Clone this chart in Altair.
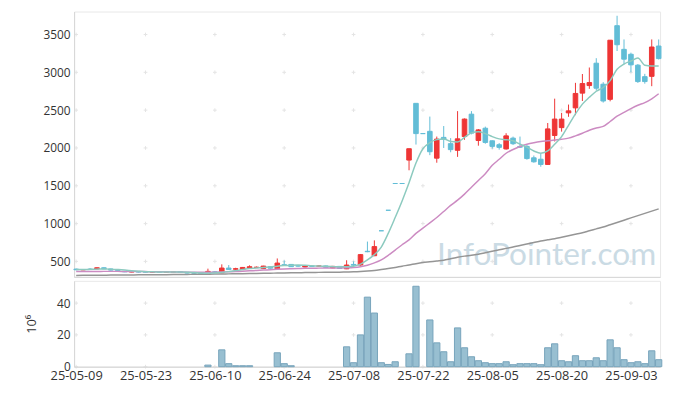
import json
import altair as alt
import pandas as pd

dates = [
    "25-05-09", "25-05-12", "25-05-13", "25-05-14", "25-05-15", "25-05-16",
    "25-05-19", "25-05-20", "25-05-21", "25-05-22", "25-05-23",
    "25-05-26", "25-05-27", "25-05-28", "25-05-29", "25-05-30",
    "25-06-02", "25-06-04", "25-06-05", "25-06-09", "25-06-10",
    "25-06-11", "25-06-12", "25-06-13", "25-06-16", "25-06-17", "25-06-18",
    "25-06-19", "25-06-20", "25-06-23", "25-06-24", "25-06-25", "25-06-26",
    "25-06-27", "25-06-30", "25-07-01", "25-07-02", "25-07-03", "25-07-04",
    "25-07-07", "25-07-08", "25-07-09", "25-07-10", "25-07-11", "25-07-14",
    "25-07-15", "25-07-16", "25-07-17", "25-07-18", "25-07-21", "25-07-22",
    "25-07-23", "25-07-24", "25-07-25", "25-07-28", "25-07-29", "25-07-30",
    "25-07-31", "25-08-01", "25-08-04", "25-08-05", "25-08-06", "25-08-07",
    "25-08-08", "25-08-11", "25-08-12", "25-08-13", "25-08-14", "25-08-18",
    "25-08-19", "25-08-20", "25-08-21", "25-08-22", "25-08-25", "25-08-26",
    "25-08-27", "25-08-28", "25-08-29", "25-09-01", "25-09-02", "25-09-03",
    "25-09-04", "25-09-05", "25-09-08", "25-09-09",
]

opens = [
    398, 388, 398, 400, 416, 400, 378, 368, 360, 364, 362, 358, 362, 358, 358,
    364, 356, 350, 346, 328, 362, 350, 412, 396, 392, 410, 420, 405, 430, 402,
    456, 460, 442, 426, 438, 437, 440, 414, 434, 402, 460, 452, 634, 575, 905,
    1176, 1530, 1530, 1840, 2590, 2190, 2220, 1865, 2140, 2057, 1969, 2151, 2447,
    2099, 2261, 2095, 2043, 1987, 2130, 2020, 2021, 1870, 1851, 1782, 2165, 2269,
    2464, 2530, 2725, 2825, 3121, 2843, 2643, 3617, 3304, 3239, 3095, 2943, 2947,
    3348,
]
highs = [
    405, 396, 412, 420, 420, 404, 382, 372, 367, 367, 366, 366, 366, 370, 367,
    368, 360, 353, 350, 404, 372, 461, 452, 416, 426, 448, 432, 442, 436, 539,
    513, 465, 448, 448, 442, 452, 445, 440, 438, 515, 500, 598, 762, 778, 905,
    1176, 1530, 1530, 1990, 2590, 2190, 2415, 2151, 2290, 2130, 2487, 2390, 2487,
    2250, 2282, 2100, 2065, 2195, 2150, 2151, 2040, 1900, 1926, 2330, 2652, 2464,
    2574, 2861, 2978, 3064, 3187, 2870, 3425, 3748, 3435, 3260, 3110, 2980, 3435,
    3435,
]
lows = [
    383, 385, 388, 396, 398, 380, 366, 358, 356, 355, 354, 355, 354, 355, 355,
    352, 342, 340, 333, 325, 350, 345, 388, 390, 388, 405, 412, 400, 405, 398,
    440, 426, 432, 420, 428, 430, 418, 410, 402, 398, 440, 445, 622, 570, 905,
    1176, 1530, 1530, 1705, 2045, 2190, 1905, 1805, 2000, 1943, 1882, 2108, 2180,
    2030, 2056, 1991, 1978, 1978, 2040, 2000, 1845, 1805, 1752, 1782, 2086, 2216,
    2412, 2434, 2621, 2782, 2760, 2600, 2617, 3282, 3108, 3000, 2860, 2850, 2817,
    3170,
]
closes = [
    390, 392, 392, 416, 402, 385, 370, 362, 363, 359, 358, 361, 358, 362, 361,
    356, 346, 344, 336, 368, 356, 412, 392, 404, 420, 430, 423, 438, 410, 478,
    450, 430, 438, 442, 434, 440, 422, 434, 406, 452, 450, 590, 628, 696, 905,
    1176, 1530, 1530, 1990, 2190, 2190, 1950, 2117, 2115, 1978, 2121, 2382, 2196,
    2239, 2073, 2021, 2008, 2160, 2056, 2010, 1860, 1817, 1782, 2252, 2382, 2382,
    2491, 2721, 2852, 2865, 2790, 2621, 3425, 3365, 3174, 3099, 2878, 2878, 3335,
    3182,
]
# volume, millions of shares (0 where no bar is visible)
volume = [
    0.0, 0.0, 0.0, 0.0, 0.0, 0.0, 0.0, 0.0, 0.0, 0.0, 0.0, 0.0, 0.0, 0.0, 0.0,
    0.0, 0.0, 0.0, 0.0, 1.0, 0.0, 10.6, 1.9, 0.6, 0.6, 0.6, 0.0, 0.0, 0.0, 8.75,
    1.9, 0.6, 0.0, 0.0, 0.0, 0.0, 0.0, 0.0, 0.0, 12.5, 2.5, 20.0, 43.75, 33.75, 2.5,
    1.4, 3.1, 0.0, 8.1, 50.6, 0.0, 29.4, 15.0, 9.4, 3.1, 24.4, 11.9, 6.25, 3.75,
    2.5, 1.9, 1.9, 3.1, 1.25, 1.9, 1.9, 1.9, 1.25, 11.9, 14.4, 3.75, 3.1, 6.9,
    3.75, 3.75, 5.6, 3.75, 16.9, 11.9, 4.4, 2.5, 3.1, 1.9, 10.0, 4.4,
]
ma5 = [
    392, 393, 395, 398, 400, 398, 392, 385, 377, 370, 364, 362, 360, 360, 360,
    359, 356, 352, 347, 344, 346, 355, 365, 378, 392, 405, 412, 420, 425, 437,
    445, 450, 452, 448, 442, 438, 436, 432, 428, 430, 437, 465, 520, 590, 690,
    870, 1080, 1300, 1540, 1800, 1990, 2070, 2110, 2120, 2085, 2080, 2140, 2200,
    2215, 2190, 2150, 2120, 2110, 2095, 2050, 2010, 1960, 1930, 1960, 2050, 2150,
    2300, 2450, 2580, 2670, 2750, 2800, 2890, 3040, 3110, 3150, 3190, 3095, 3085,
    3085,
]
ma20 = [
    366, 366, 367, 367, 368, 368, 368, 367, 367, 366, 365, 364, 363, 362, 361,
    360, 358, 357, 356, 356, 357, 360, 363, 366, 370, 375, 380, 385, 390, 395,
    399, 402, 405, 408, 410, 411, 412, 413, 414, 416, 420, 430, 450, 480, 520,
    580, 650, 720, 785, 870, 940, 1010, 1080, 1160, 1240, 1310, 1390, 1480, 1570,
    1660, 1770, 1850, 1930, 1980, 2020, 2050, 2070, 2085, 2095, 2105, 2115, 2130,
    2160, 2195, 2235, 2265, 2285, 2350, 2420, 2470, 2520, 2565, 2600, 2650, 2717,
]
ma_long = [
    315, 316, 316, 317, 318, 319, 319, 320, 321, 322, 322, 323, 324, 325, 326,
    327, 328, 329, 330, 331, 333, 334, 335, 337, 338, 340, 341, 343, 344, 346,
    347, 349, 350, 352, 353, 355, 356, 357, 358, 360, 362, 366, 372, 380, 392,
    405, 420, 437, 452, 470, 485, 495, 505, 515, 535, 555, 570, 580, 595, 615,
    635, 655, 672, 690, 710, 730, 750, 770, 785, 800, 820, 840, 860, 880, 905,
    930, 955, 985, 1015, 1045, 1075, 1105, 1135, 1165, 1195,
]

tick_idx = [0, 10, 20, 30, 40, 50, 60, 70, 80]
price_ticks = [500, 1000, 1500, 2000, 2500, 3000, 3500]
vol_ticks = [0, 20, 40]

RED = "#ee3535"
BLUE = "#62bdd6"
FONT = "Open Sans"

n = len(dates)
df = pd.DataFrame({
    "idx": list(range(n)),
    "date": dates,
    "open": opens,
    "high": highs,
    "low": lows,
    "close": closes,
    "vol": volume,
})
df["dir"] = ["up" if c > o else "down" for o, c in zip(opens, closes)]

ma_df = pd.DataFrame({
    "idx": list(range(n)) * 3,
    "value": ma_long + ma20 + ma5,
    "ma": ["long"] * n + ["ma20"] * n + ["ma5"] * n,
})

xdom = [-0.3, 84.2]
xscale = alt.Scale(domain=xdom, nice=False, zero=False)
label_expr = f"{json.dumps(dates)}[datum.value]"

color = alt.Color("dir:N", scale=alt.Scale(domain=["up", "down"], range=[RED, BLUE]), legend=None)

price_y = alt.Scale(domain=[295, 3804], nice=False, zero=False)
price_axis = alt.Axis(values=price_ticks, format="d", grid=False, ticks=False, labelPadding=4,
                      labelFontSize=12, labelColor="#333", domainColor="#d6d6d6",
                      minExtent=24, title=None)

base = alt.Chart(df)

cross_price = alt.Chart(pd.DataFrame(
    [{"idx": i, "p": p} for i in tick_idx for p in price_ticks]
)).mark_point(shape="M-1,0L1,0M0,-1L0,1", size=14, filled=False,
              stroke="#d9d9d9", strokeWidth=1).encode(
    x=alt.X("idx:Q", scale=xscale),
    y=alt.Y("p:Q", scale=price_y),
)

watermark = alt.Chart(pd.DataFrame({"t": ["InfoPointer.com"]})).mark_text(
    font="Lato", fontSize=32, color="#b9cfdc", opacity=0.75, align="left",
    baseline="alphabetic",
).encode(text="t:N", x=alt.value(368), y=alt.value(257))

wicks = base.mark_rule(strokeWidth=1).encode(
    x=alt.X("idx:Q", scale=xscale, axis=alt.Axis(labels=False, ticks=False, grid=False,
                                                  domainColor="#d6d6d6", title=None)),
    y=alt.Y("low:Q", scale=price_y, axis=price_axis),
    y2="high:Q",
    color=color,
)

bodies = base.transform_calculate(
    xa="datum.idx - 0.33", xb="datum.idx + 0.33"
).mark_bar(strokeWidth=1).encode(
    x="xa:Q", x2="xb:Q",
    y="open:Q", y2="close:Q",
    color=color,
    stroke=alt.Stroke("dir:N", scale=alt.Scale(domain=["up", "down"], range=[RED, BLUE]), legend=None),
)

lines = alt.Chart(ma_df).mark_line(strokeWidth=1.5, interpolate="monotone").encode(
    x=alt.X("idx:Q", scale=xscale),
    y=alt.Y("value:Q", scale=price_y),
    color=alt.Color("ma:N", scale=alt.Scale(domain=["long", "ma20", "ma5"],
                                            range=["#959595", "#cc8bc2", "#8ccabf"]),
                    legend=None),
    detail="ma:N",
)

price_chart = alt.layer(cross_price, watermark, wicks, bodies, lines).resolve_scale(
    color="independent", stroke="independent"
).properties(width=594, height=269)

vol_y = alt.Scale(domain=[0, 54], nice=False)
cross_vol = alt.Chart(pd.DataFrame(
    [{"idx": i, "v": v} for i in tick_idx for v in vol_ticks]
)).mark_point(shape="M-1,0L1,0M0,-1L0,1", size=14, filled=False,
              stroke="#d9d9d9", strokeWidth=1).encode(
    x=alt.X("idx:Q", scale=xscale),
    y=alt.Y("v:Q", scale=vol_y),
)

vol_bars = base.transform_filter("datum.vol > 0").transform_calculate(
    xa="datum.idx - 0.45", xb="datum.idx + 0.45"
).mark_bar(fill="#98bfd1", stroke="#77a4bb", strokeWidth=1).encode(
    x=alt.X("xa:Q", scale=xscale,
            axis=alt.Axis(values=tick_idx, labelExpr=label_expr, ticks=False, grid=False,
                          labelFontSize=13, labelColor="#333", labelPadding=3,
                          domainColor="#d0d0d0", title=None)),
    x2="xb:Q",
    y=alt.Y("vol:Q", scale=vol_y,
            axis=alt.Axis(values=vol_ticks, grid=False, ticks=False, labelPadding=4,
                          labelFontSize=12, labelColor="#333", domainColor="#d6d6d6",
                          title="10⁶", titleFontSize=13, titleFontWeight="normal",
                          titleColor="#333", titlePadding=12, minExtent=24, maxExtent=24)),
    y2=alt.datum(0),
)

vol_chart = alt.layer(cross_vol, vol_bars).properties(width=594, height=87)

chart = alt.vconcat(price_chart, vol_chart, spacing=1).properties(
    padding={"left": 17, "top": 0, "right": 2, "bottom": 0}
).configure(font=FONT).configure_view(stroke="#e8e8e8").configure_axis(
    labelFont=FONT, titleFont=FONT
)

chart.save("out.html", embed_options={"renderer": "svg", "actions": False})
